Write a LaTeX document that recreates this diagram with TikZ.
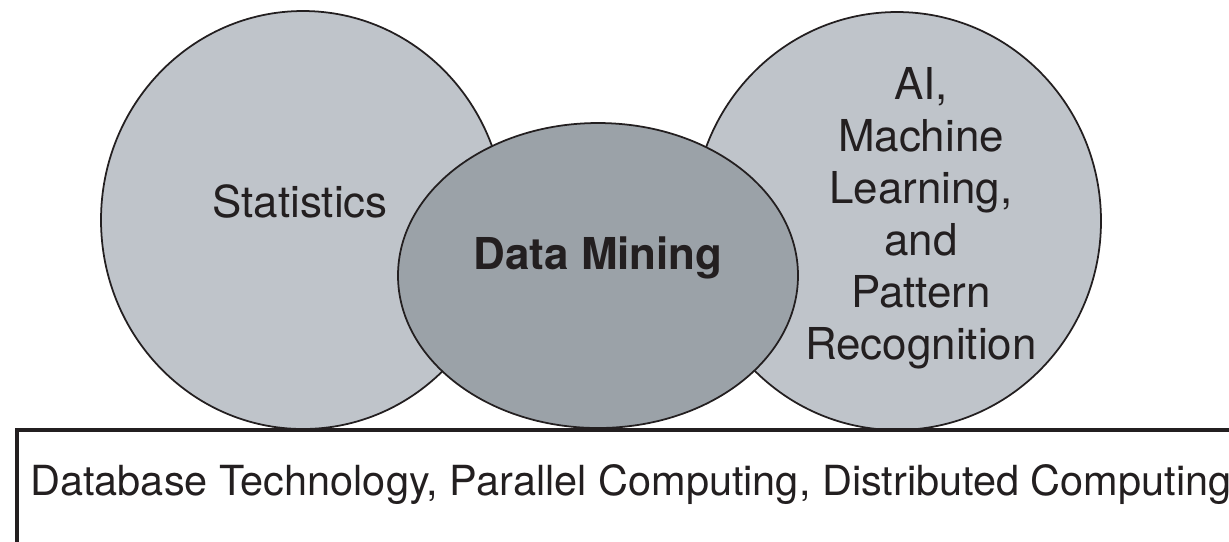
\documentclass[tikz,border=0pt]{standalone}
\usepackage{fontspec}
\setmainfont{TeX Gyre Heros}
\usepackage{tikz}
\usetikzlibrary{shapes.geometric}
\definecolor{lightfill}{RGB}{191,196,202}
\definecolor{darkfill}{RGB}{155,162,168}
\definecolor{ink}{RGB}{35,31,32}

\begin{document}
\begin{tikzpicture}[x=0.1mm, y=-0.1mm, semithick,
    blob/.style={ellipse, draw=ink, line width=0.5pt, inner sep=0pt},
    lbl/.style={text=ink, inner sep=0pt, font=\fontsize{12.5}{14.8}\selectfont}]
    \useasboundingbox (0,0) rectangle (1229,541);
    \node (stat) [blob, fill=lightfill, minimum width=40.4mm, minimum height=41.8mm] at (303,220) {};
    \node (ai) [blob, fill=lightfill, minimum width=40.8mm, minimum height=41.8mm] at (897,221) {};
    \node (dm) [blob, fill=darkfill, minimum width=40mm, minimum height=30.5mm] at (598,275.5) {};
    \node (dbbox) [draw=ink, line width=0.9pt, rectangle, inner sep=0pt, minimum width=122.4mm, minimum height=13mm] at (629,495) {};
    \node (statl) [lbl, anchor=base] at (300,217) {Statistics};
    \node (dml) [lbl, anchor=base, font=\fontsize{12.5}{14.8}\selectfont\bfseries] at (598,269) {Data Mining};
    \node (ail) [lbl, anchor=north, align=center] at (921,66) {AI,\\ Machine\\ Learning,\\ and\\ Pattern\\ Recognition};
    \node (dbl) [lbl, anchor=base, font=\fontsize{11.8}{14}\selectfont] at (631,495) {Database Technology, Parallel Computing, Distributed Computing};
\end{tikzpicture}
\end{document}
